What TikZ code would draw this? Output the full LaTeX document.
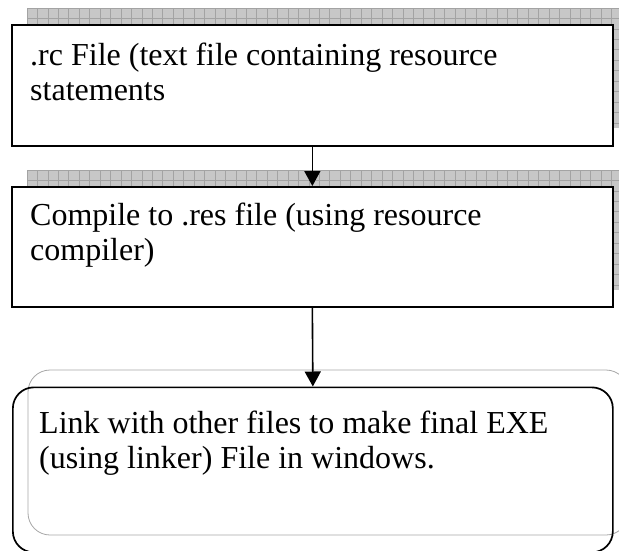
\documentclass[tikz,border=0pt]{standalone}
\usepackage{fontspec}
\setmainfont{Liberation Serif}
\usetikzlibrary{arrows.meta}
\tikzset{
  boxstyle/.style={draw=black, line width=1.7pt, fill=white, rectangle, inner sep=0pt, anchor=north west},
  roundbox/.style={draw=black, line width=1.7pt, rectangle, rounded corners=21pt, inner sep=0pt, anchor=north west},
  lbl/.style={anchor=base west, align=left, inner sep=0pt, font=\fontsize{32}{35}\selectfont},
  conn/.style={line width=1.6pt, -{Triangle[width=16pt,length=15pt]}},
  shadefill/.style={fill=black!22},
  shadegrid/.style={draw=black!36, line width=0.6pt},
}
\begin{document}
\begin{tikzpicture}[x=1pt, y=-1pt]
\useasboundingbox (0,0) rectangle (619,550);
% patterned shadows of boxes 1 and 2
\foreach \yy in {8,170}{
  \begin{scope}
    \clip (27,\yy) rectangle (628,\yy+120);
    \fill[shadefill] (27,\yy) rectangle (628,\yy+120);
    \foreach \k in {0,...,58}{
      \draw[shadegrid] (27+10.44*\k,\yy) -- (27+10.44*\k,\yy+120);
    }
    \foreach \k in {0,...,12}{
      \draw[shadegrid] (27,\yy+10.44*\k) -- (628,\yy+10.44*\k);
    }
  \end{scope}
}
% outline shadow of box 3
\draw[black!35, line width=0.8pt, rounded corners=22pt] (28,370) rectangle (628,535);
% boxes
\node[boxstyle, minimum width=601pt, minimum height=121pt] (b1) at (11,24) {};
\node[boxstyle, minimum width=601pt, minimum height=120pt] (b2) at (11,186) {};
\node[roundbox, minimum width=600pt, minimum height=165pt] (b3) at (12,386.5) {};
% texts (anchored at the baseline of the last line)
\node[lbl] (t1) at (30,100) {.rc File (text file containing resource\\statements};
\node[lbl] (t2) at (30,260) {Compile to .res file (using resource\\compiler)};
\node[lbl] (t3) at (39,468) {Link with other files to make final EXE\\(using linker) File in windows.};
% connectors
\draw[conn] (b1.south) -- (b2.north);
\draw[conn] (b2.south) -- (b3.north);
\end{tikzpicture}
\end{document}
